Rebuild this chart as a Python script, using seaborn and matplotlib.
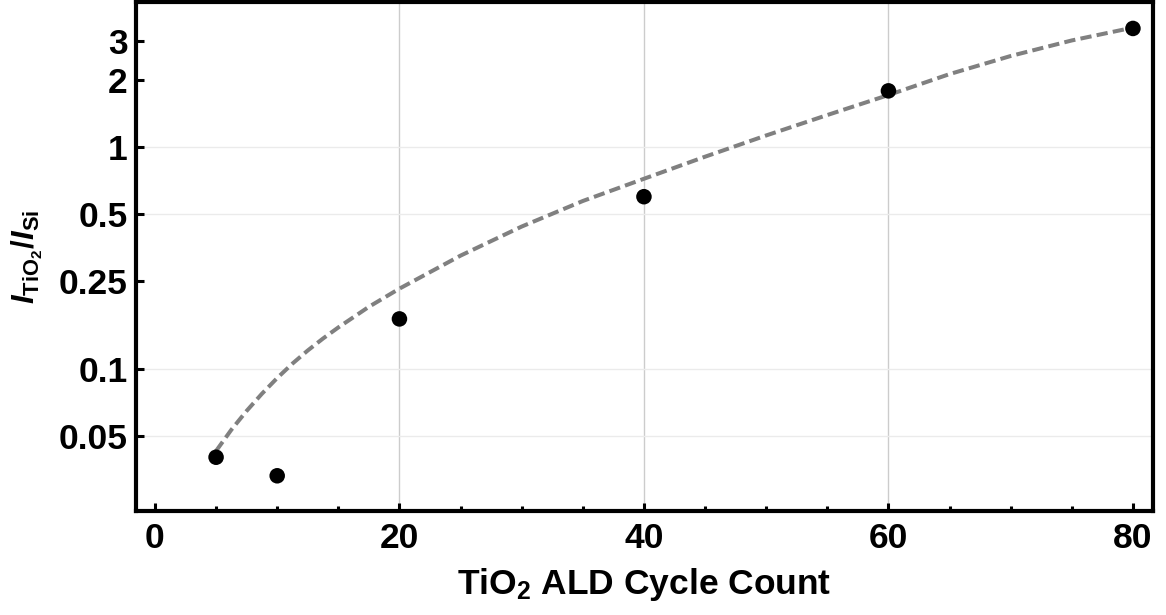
import matplotlib
matplotlib.use("Agg")
import matplotlib.pyplot as plt
import seaborn as sns
import pandas as pd
from matplotlib.ticker import FixedLocator, FixedFormatter, NullLocator, MultipleLocator

# ---- data ----
cycles = [5, 10, 20, 40, 60, 80]
ratio = [0.0400, 0.0330, 0.168, 0.597, 1.79, 3.42]

fit_cycles = [5, 6.25, 7.5, 8.75, 10, 11.25, 12.5, 13.75, 15, 17.5, 20, 25, 30, 35, 40,
              45, 50, 55, 60, 65, 70, 75, 80]
fit_ratio = [0.0427, 0.0532, 0.0647, 0.0773, 0.0910, 0.1057, 0.1211, 0.1371, 0.1538,
             0.1905, 0.2300, 0.324, 0.438, 0.571, 0.719, 0.904, 1.127, 1.393, 1.714,
             2.13, 2.57, 3.02, 3.45]

x_ticks = [0, 20, 40, 60, 80]
y_ticks = [0.05, 0.1, 0.25, 0.5, 1, 2, 3]
y_tick_labels = ["0.05", "0.1", "0.25", "0.5", "1", "2", "3"]
x_grid = [20, 40, 60]
y_grid = [0.05, 0.1, 0.5, 1]

sns.set_theme(style="white")
plt.rcParams["font.family"] = ["Liberation Sans", "DejaVu Sans"]
plt.rcParams["font.weight"] = "bold"
plt.rcParams["mathtext.fontset"] = "custom"
plt.rcParams["mathtext.rm"] = "Liberation Sans:bold"
plt.rcParams["mathtext.bf"] = "Liberation Sans:bold"
plt.rcParams["mathtext.it"] = "Liberation Sans:italic:bold"
plt.rcParams["mathtext.bfit"] = "Liberation Sans:italic:bold"

df_pts = pd.DataFrame({"cycles": cycles, "ratio": ratio})
df_fit = pd.DataFrame({"cycles": fit_cycles, "ratio": fit_ratio})

fig = plt.figure(figsize=(11.66, 6.15), dpi=100)
ax = fig.add_axes([136 / 1166, 1 - 511 / 615, (1152.5 - 136) / 1166, (511 - 2) / 615])

for xv in x_grid:
    ax.axvline(xv, color="#cccccc", lw=1.0, zorder=0)
for yv in y_grid:
    ax.axhline(yv, color="#ebebeb", lw=1.0, zorder=0)

sns.lineplot(data=df_fit, x="cycles", y="ratio", ax=ax, color="#808080", lw=2.9,
             dashes=False, zorder=2)
ax.lines[-1].set_dashes((2.8, 1.3))
sns.scatterplot(data=df_pts, x="cycles", y="ratio", ax=ax, color="black", s=125,
                edgecolor="none", zorder=3)

ax.set_yscale("log")
ax.set_xlim(-1.55, 81.6)
ax.set_ylim(0.0229, 4.5)

ax.xaxis.set_major_locator(FixedLocator(x_ticks))
ax.xaxis.set_minor_locator(MultipleLocator(5))
ax.yaxis.set_major_locator(FixedLocator(y_ticks))
ax.yaxis.set_major_formatter(FixedFormatter(y_tick_labels))
ax.yaxis.set_minor_locator(NullLocator())

ax.tick_params(axis="both", which="major", direction="in", length=6, width=2.2,
               color="black", labelsize=25.5, labelcolor="black")
ax.tick_params(axis="x", which="minor", direction="in", length=3.5, width=2.2,
               color="black", bottom=True)
ax.tick_params(axis="x", which="major", pad=8, bottom=True, top=False)
ax.tick_params(axis="y", which="major", pad=6, left=True, right=False)
for lbl in ax.get_xticklabels() + ax.get_yticklabels():
    lbl.set_fontweight("bold")

for sp in ax.spines.values():
    sp.set_visible(True)
    sp.set_color("black")
    sp.set_linewidth(3.0)

ax.set_xlabel(r"TiO$_\mathbf{2}$ ALD Cycle Count", fontsize=25.5, fontweight="bold",
              color="black", labelpad=8)
ax.set_ylabel(r"$\mathbfit{I}_{\mathbf{TiO}_\mathbf{2}}/\mathbfit{I}_{\mathbf{Si}}$",
              fontsize=22.5, color="black", labelpad=10)

fig.savefig("out.png", dpi=100)
